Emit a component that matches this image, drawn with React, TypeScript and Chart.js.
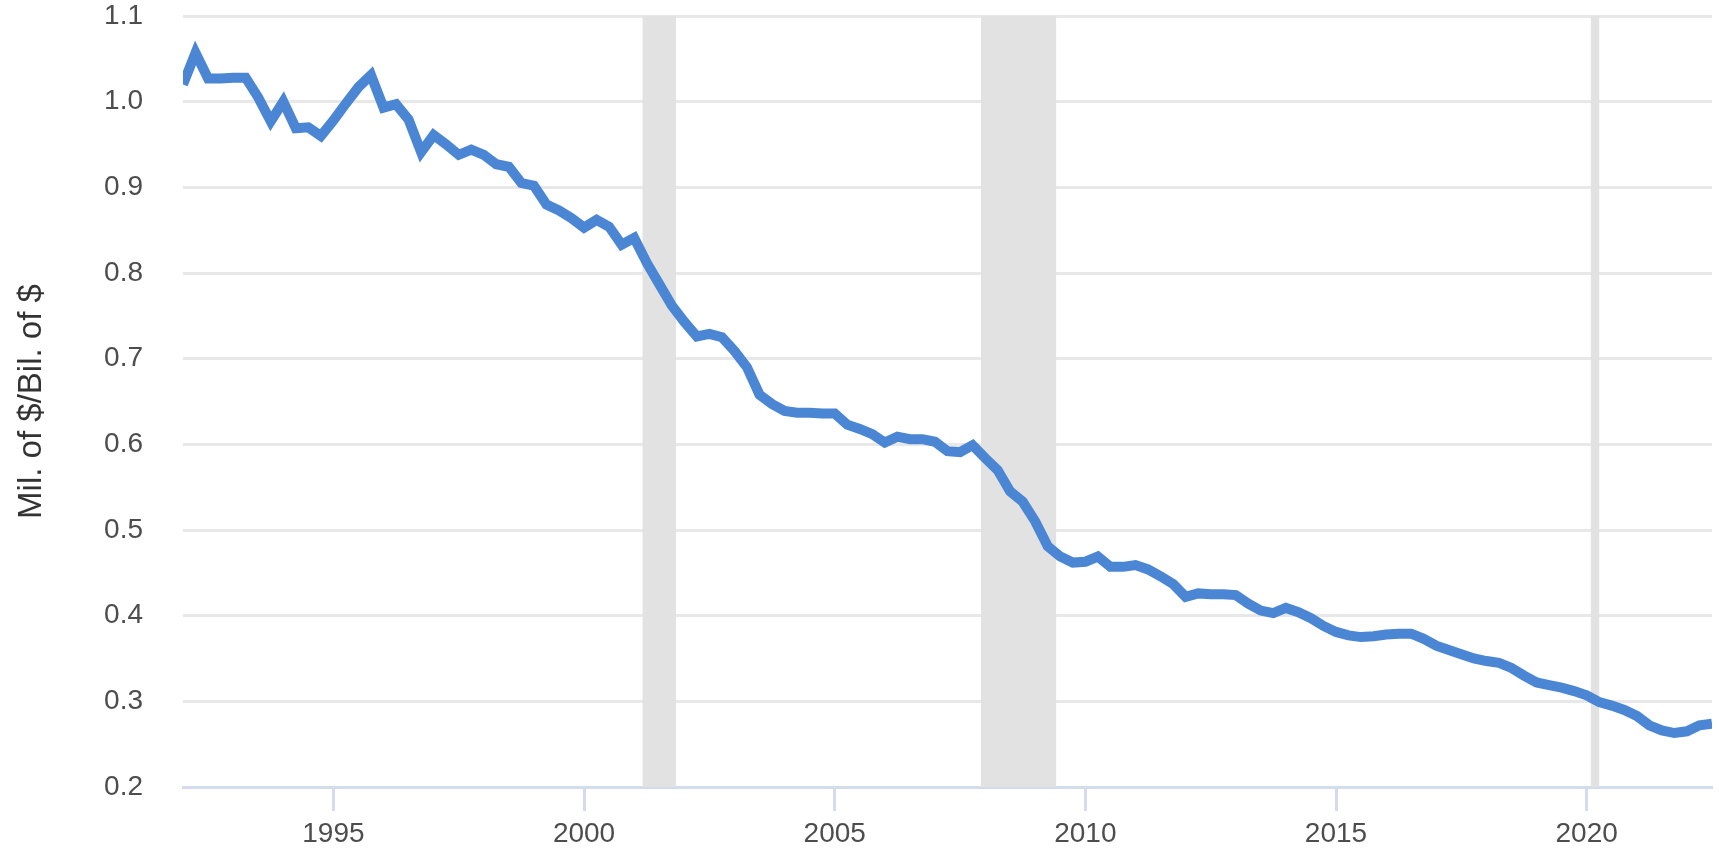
import React, { useEffect, useRef } from "react";
import { Chart, registerables } from "chart.js";

Chart.register(...registerables);

// Quarterly series, first observation 1992 Q1
const startYear = 1992;
const quarterStep = 0.25;
const seriesValues = [
  1.02, 1.057, 1.027, 1.027, 1.028, 1.028, 1.005, 0.977, // 1992-1993
  1.0, 0.969, 0.97, 0.96, 0.978, 0.998, 1.017, 1.031, // 1994-1995
  0.993, 0.997, 0.979, 0.941, 0.961, 0.95, 0.938, 0.944, // 1996-1997
  0.938, 0.927, 0.924, 0.905, 0.902, 0.88, 0.873, 0.864, // 1998-1999
  0.853, 0.862, 0.854, 0.833, 0.841, 0.812, 0.787, 0.762, // 2000-2001
  0.743, 0.726, 0.729, 0.725, 0.709, 0.69, 0.658, 0.647, // 2002-2003
  0.639, 0.637, 0.637, 0.636, 0.636, 0.623, 0.618, 0.612, // 2004-2005
  0.602, 0.609, 0.606, 0.606, 0.603, 0.592, 0.591, 0.599, // 2006-2007
  0.584, 0.57, 0.545, 0.533, 0.51, 0.481, 0.469, 0.462, // 2008-2009
  0.463, 0.469, 0.457, 0.457, 0.459, 0.454, 0.446, 0.437, // 2010-2011
  0.422, 0.426, 0.425, 0.425, 0.424, 0.414, 0.406, 0.403, // 2012-2013
  0.409, 0.404, 0.397, 0.388, 0.381, 0.377, 0.375, 0.376, // 2014-2015
  0.378, 0.379, 0.379, 0.373, 0.365, 0.36, 0.355, 0.35, // 2016-2017
  0.347, 0.345, 0.339, 0.33, 0.322, 0.319, 0.316, 0.312, // 2018-2019
  0.307, 0.299, 0.295, 0.29, 0.283, 0.272, 0.266, 0.263, // 2020-2021
  0.265, 0.272, 0.274, // 2022
];

const xMin = 1992;
const xMax = 2022.5;
const xTickYears = [1995, 2000, 2005, 2010, 2015, 2020];
const yMin = 0.2;
const yMax = 1.1;
const yStep = 0.1;
const recessionStarts = [2001.167, 2007.917, 2020.083];
const recessionEnds = [2001.833, 2009.417, 2020.25];
const yAxisTitle = "Mil. of $/Bil. of $";

const FONT = "'Liberation Sans', Arial, sans-serif";

const recessionPlugin = {
  id: "recessionBands",
  beforeDatasetsDraw(chart: any) {
    const { ctx, chartArea, scales } = chart;
    const xs = scales.x;
    ctx.save();
    ctx.fillStyle = "#e2e2e2";
    for (let i = 0; i < recessionStarts.length; i++) {
      const x0 = xs.getPixelForValue(recessionStarts[i]);
      const x1 = xs.getPixelForValue(recessionEnds[i]);
      ctx.fillRect(x0, chartArea.top, x1 - x0, chartArea.bottom - chartArea.top);
    }
    ctx.restore();
  },
};

export default function App() {
  const canvasRef = useRef<HTMLCanvasElement | null>(null);

  useEffect(() => {
    if (!canvasRef.current) return;
    const points = seriesValues.map((v, i) => ({ x: startYear + i * quarterStep, y: v }));
    const chart = new Chart(canvasRef.current, {
      type: "line",
      data: {
        datasets: [
          {
            data: points,
            borderColor: "#4a86d4",
            borderWidth: 10,
            pointRadius: 0,
            tension: 0,
            fill: false,
          },
        ],
      },
      options: {
        animation: false,
        responsive: true,
        maintainAspectRatio: false,
        layout: { padding: { top: 16, right: 7, bottom: 0, left: 0 } },
        plugins: {
          legend: { display: false },
          tooltip: { enabled: false },
        },
        scales: {
          x: {
            type: "linear",
            min: xMin,
            max: xMax,
            afterBuildTicks: (s: any) => {
              s.ticks = xTickYears.map((v) => ({ value: v }));
            },
            afterFit: (s: any) => {
              s.height = 63;
              s.paddingLeft = 0;
              s.paddingRight = 0;
            },
            grid: {
              drawOnChartArea: false,
              drawTicks: true,
              tickLength: 24,
              tickColor: "#d3dbec",
              tickWidth: 3,
            },
            border: { display: true, color: "#d3dbec", width: 3 },
            ticks: {
              padding: 8,
              color: "#4d4d4d",
              font: { family: FONT, size: 28, lineHeight: 1.1 },
              callback: (v: any) => String(v),
              maxRotation: 0,
            },
          },
          y: {
            type: "linear",
            min: yMin,
            max: yMax,
            afterFit: (s: any) => {
              s.width = 183;
              s.paddingTop = 0;
              s.paddingBottom = 0;
            },
            grid: {
              color: "#e8e8e8",
              lineWidth: 3,
              drawTicks: false,
            },
            border: { display: false },
            ticks: {
              stepSize: yStep,
              padding: 40,
              color: "#4d4d4d",
              font: { family: FONT, size: 28, lineHeight: 1.1 },
              callback: (v: any) => Number(v).toFixed(1),
            },
            title: {
              display: true,
              text: yAxisTitle,
              color: "#333333",
              font: { family: FONT, size: 33, lineHeight: 1.2 },
              padding: { top: 12, bottom: 0 },
            },
          },
        },
      },
      plugins: [recessionPlugin],
    });
    return () => chart.destroy();
  }, []);

  return (
    <div style={{ position: "absolute", left: 0, top: 0, width: 1719, height: 850, background: "#ffffff" }}>
      <canvas ref={canvasRef} />
    </div>
  );
}
